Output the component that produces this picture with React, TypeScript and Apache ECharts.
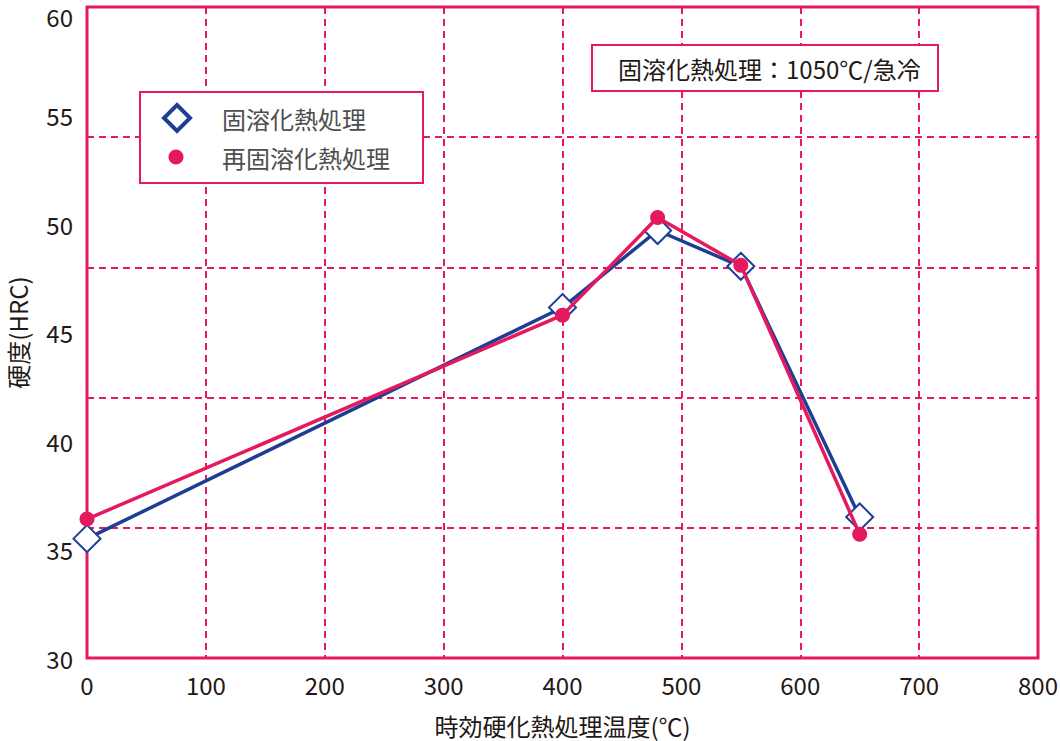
import React, { useEffect, useRef } from "react";
import * as echarts from "echarts";

const temps = [0, 400, 480, 550, 650];
const solutionHardness = [35.5, 46.15, 49.7, 48.05, 36.5];
const reSolutionHardness = [36.4, 45.8, 50.3, 48.1, 35.7];
const seriesNames = ["固溶化熱処理", "再固溶化熱処理"];
const noteText = "固溶化熱処理：1050℃/急冷";
const xTitle = "時効硬化熱処理温度(℃)";
const yTitle = "硬度(HRC)";
const yMin = 30;
const yMax = 60;

const PINK = "#E5195E";
const BLUE = "#1D3E94";
const TEXT = "#231815";
const FONT = "'Noto Sans CJK JP', 'Noto Sans', sans-serif";

export default function App() {
  const ref = useRef<HTMLDivElement>(null);
  useEffect(() => {
    if (!ref.current) return;
    const chart = echarts.init(ref.current, undefined, { renderer: "svg" });
    const dash = { color: PINK, width: 2, type: [7, 5] as any };
    chart.setOption({
      animation: false,
      backgroundColor: "#fff",
      textStyle: { fontFamily: FONT },
      grid: {
        left: 87,
        right: 22,
        top: 7,
        bottom: 83,
        show: true,
        borderColor: PINK,
        borderWidth: 3,
        backgroundColor: "transparent",
        outerBoundsMode: "none",
        containLabel: false,
      },
      xAxis: {
        type: "value",
        min: 0,
        max: 800,
        interval: 100,
        name: xTitle,
        nameLocation: "middle",
        nameGap: 55,
        nameTextStyle: { fontSize: 24, color: TEXT, fontFamily: FONT },
        axisLine: { show: false },
        axisTick: { show: false },
        axisLabel: { fontSize: 24, color: TEXT, margin: 14, fontFamily: FONT },
        splitLine: { show: true, lineStyle: dash },
      },
      yAxis: [
        {
          type: "value",
          min: yMin,
          max: yMax,
          interval: 5,
          name: yTitle,
          nameLocation: "middle",
          nameGap: 58,
          nameTextStyle: { fontSize: 24, color: TEXT, fontFamily: FONT, lineHeight: 24 },
          axisLine: { show: false },
          axisTick: { show: false },
          axisLabel: {
            fontSize: 24,
            color: TEXT,
            margin: 14,
            fontFamily: FONT,
            showMaxLabel: false,
          },
          splitLine: { show: false },
        },
        {
          type: "value",
          min: 0,
          max: 5,
          interval: 1,
          position: "left",
          axisLine: { show: false },
          axisTick: { show: false },
          axisLabel: { show: false },
          splitLine: { show: true, lineStyle: dash },
        },
      ],
      series: [
        {
          name: seriesNames[0],
          type: "line",
          yAxisIndex: 0,
          data: temps.map((t, i) => [t, solutionHardness[i]]),
          symbol: "emptyDiamond",
          symbolSize: 27,
          lineStyle: { color: BLUE, width: 3.5 },
          itemStyle: { color: BLUE, borderColor: BLUE, borderWidth: 4 },
          z: 2,
        },
        {
          name: seriesNames[1],
          type: "line",
          yAxisIndex: 0,
          data: temps.map((t, i) => [t, reSolutionHardness[i]]),
          symbol: "circle",
          symbolSize: 15,
          showAllSymbol: true,
          lineStyle: { color: PINK, width: 3.5 },
          itemStyle: { color: PINK, borderWidth: 0 },
          z: 3,
        },
      ],
      graphic: [
        {
          type: "rect",
          shape: { x: 140, y: 92, width: 283, height: 91 },
          style: { fill: "#fff", stroke: PINK, lineWidth: 2 },
          z: 10,
        },
        {
          type: "polygon",
          shape: { points: [[177, 105], [190, 118], [177, 131], [164, 118]] },
          style: { fill: "#fff", stroke: BLUE, lineWidth: 4 },
          z: 11,
        },
        {
          type: "circle",
          shape: { cx: 176, cy: 157, r: 7.5 },
          style: { fill: PINK },
          z: 11,
        },
        {
          type: "text",
          x: 222,
          y: 118,
          style: { text: seriesNames[0], font: `24px ${FONT}`, fill: "#4d4d4d", verticalAlign: "middle" },
          z: 11,
        },
        {
          type: "text",
          x: 222,
          y: 157,
          style: { text: seriesNames[1], font: `24px ${FONT}`, fill: "#4d4d4d", verticalAlign: "middle" },
          z: 11,
        },
        {
          type: "rect",
          shape: { x: 592, y: 45, width: 346, height: 46 },
          style: { fill: "#fff", stroke: PINK, lineWidth: 2 },
          z: 10,
        },
        {
          type: "text",
          x: 618,
          y: 68,
          style: { text: noteText, font: `24px ${FONT}`, fill: TEXT, verticalAlign: "middle" },
          z: 11,
        },
      ],
    });
    // top tick label, placed through the axis scale but kept inside the page
    const topY = chart.convertToPixel({ yAxisIndex: 0 }, yMax) as number;
    chart.setOption({
      graphic: [
        {
          id: "ymaxLabel",
          type: "text",
          x: 73,
          y: Math.max(topY - 3, 4),
          style: {
            text: String(yMax),
            font: `24px ${FONT}`,
            lineHeight: 24,
            fill: TEXT,
            align: "right",
            verticalAlign: "top",
          },
          z: 11,
        },
      ],
    });
    return () => chart.dispose();
  }, []);
  return <div ref={ref} style={{ width: 1060, height: 741, position: "absolute", left: 0, top: 0 }} />;
}
